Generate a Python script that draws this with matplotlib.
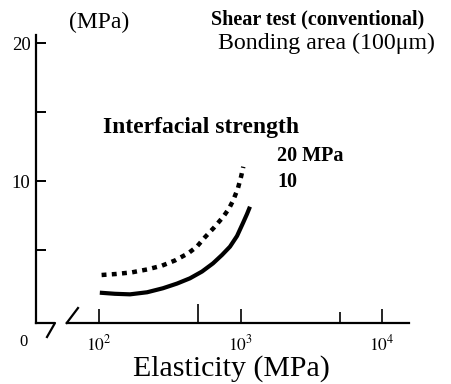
import matplotlib
matplotlib.use('Agg')
import matplotlib.pyplot as plt
from matplotlib.ticker import FixedLocator, FixedFormatter, NullFormatter

# ---- data ----
solid_x = [101, 129, 165, 218, 282, 355, 438, 533, 637, 738, 840, 942, 1038, 1108, 1163]
solid_y = [1.94, 1.86, 1.82, 1.97, 2.26, 2.60, 2.98, 3.47, 4.06, 4.67, 5.27, 6.04, 6.98, 7.63, 8.16]
dotted_x = [104, 131, 170, 218, 277, 343, 426, 491, 559, 648, 754, 827, 887, 957, 1005, 1043]
dotted_y = [3.22, 3.29, 3.41, 3.62, 3.89, 4.27, 4.79, 5.28, 5.95, 6.65, 7.44, 8.03, 8.64, 9.51, 10.31, 11.05]
x_major = [100, 1000, 10000]
x_major_labels = ['$10^{2}$', '$10^{3}$', '$10^{4}$']
x_minor = [500, 5000]
y_ticks = [5, 10, 15, 20]
y_tick_labels = ['', '10', '', '20']

plt.rcParams['font.family'] = ['Liberation Serif', 'DejaVu Serif']
plt.rcParams['mathtext.fontset'] = 'stix'

W, H = 452, 384
fig = plt.figure(figsize=(W / 100, H / 100), dpi=100)

def fx(px):
    return px / W

def fy(py):
    return 1 - py / H

ax_l, ax_r, ax_t, ax_b = 36, 409, 35, 323
ax = fig.add_axes([fx(ax_l), fy(ax_b), (ax_r - ax_l) / W, (ax_b - ax_t) / H])
ax.set_xscale('log')
ax.set_xlim(35.76, 15466)
ax.set_ylim(-0.253, 20.58)

ax.plot(solid_x, solid_y, color='black', lw=3.0, solid_capstyle='butt', solid_joinstyle='round')
ax.plot(dotted_x, dotted_y, color='black', lw=3.2, linestyle=(0, (1.1, 1.2)), dash_capstyle='butt')

for s in ['top', 'right']:
    ax.spines[s].set_visible(False)
ax.spines['left'].set_linewidth(1.6)
ax.spines['bottom'].set_linewidth(1.6)
ax.spines['bottom'].set_bounds(58.9, 15466)

ax.xaxis.set_major_locator(FixedLocator(x_major))
ax.xaxis.set_major_formatter(FixedFormatter(x_major_labels))
ax.xaxis.set_minor_locator(FixedLocator(x_minor))
ax.xaxis.set_minor_formatter(NullFormatter())
ax.tick_params(axis='x', which='major', direction='in', length=10, width=1.2, pad=8, labelsize=12.5)
ax.tick_params(axis='x', which='minor', direction='in', length=8, width=1.2)
mts = ax.xaxis.get_minor_ticks()
mts[0].tick1line.set_markersize(14)

ax.yaxis.set_major_locator(FixedLocator(y_ticks))
ax.yaxis.set_major_formatter(FixedFormatter(y_tick_labels))
ax.tick_params(axis='y', which='major', direction='in', length=7, width=1.4, pad=4, labelsize=13.5)
ax.yaxis.set_tick_params(which='minor', left=False)

# axis break marks
tr = ax.transAxes
ax.plot([0, 0.0509, 0.0295], [0, 0, -0.0486], color='black', lw=1.6, transform=tr, clip_on=False)
ax.plot([0.0823, 0.1126], [0, 0.052], color='black', lw=1.6, transform=tr, clip_on=False)

fig.text(fx(23), fy(342), '0', fontsize=12, ha='center', va='center')
fig.text(fx(231), fy(369), 'Elasticity (MPa)', fontsize=21.5, ha='center', va='center')
fig.text(fx(99), fy(22), '(MPa)', fontsize=17, ha='center', va='center')
fig.text(fx(424), fy(19), 'Shear test (conventional)', fontsize=14.5, fontweight='bold', ha='right', va='center')
fig.text(fx(435), fy(43), 'Bonding area (100μm)', fontsize=17.2, ha='right', va='center')
fig.text(fx(103), fy(127), 'Interfacial strength', fontsize=17, fontweight='bold', ha='left', va='center')
fig.text(fx(277), fy(156), '20 MPa', fontsize=14.5, fontweight='bold', ha='left', va='center')
fig.text(fx(277), fy(182), '10', fontsize=14.5, fontweight='bold', ha='left', va='center')

fig.savefig('out.png', dpi=100)
